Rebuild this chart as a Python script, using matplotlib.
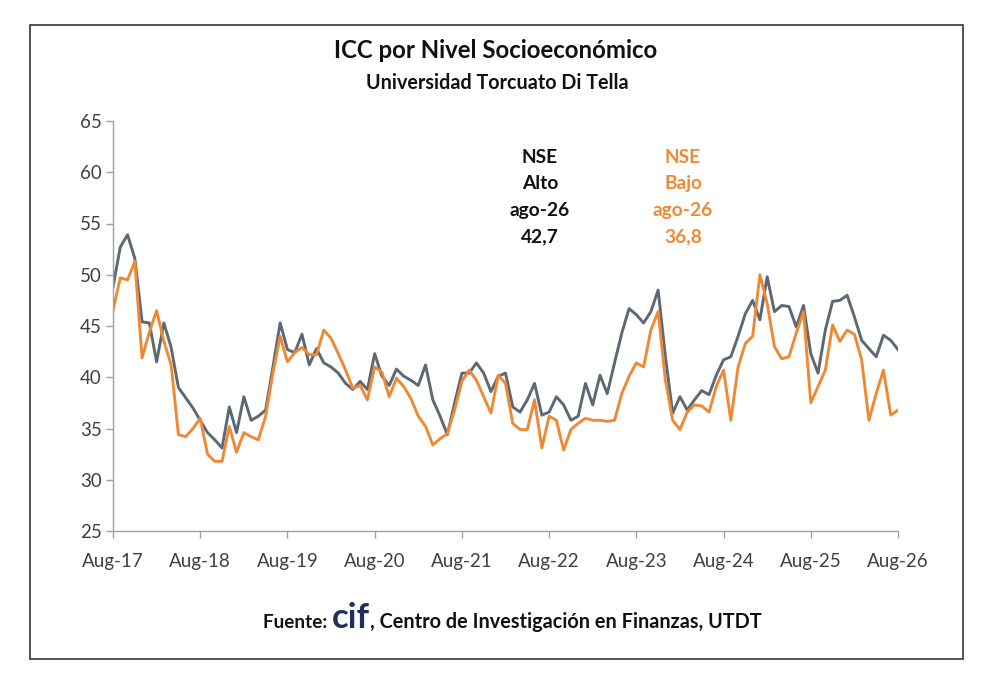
import matplotlib
matplotlib.use("Agg")
import matplotlib.pyplot as plt
from matplotlib.patches import Rectangle

# ---------------- data ----------------
x_labels = ["Aug-17", "Aug-18", "Aug-19", "Aug-20", "Aug-21",
            "Aug-22", "Aug-23", "Aug-24", "Aug-25", "Aug-26"]
y_ticks = [25, 30, 35, 40, 45, 50, 55, 60, 65]

nse_alto = [48.8, 52.7, 53.9, 51.6, 45.4, 45.3, 41.5, 45.3, 42.9, 39.0, 38.0, 37.0, 35.8,
            34.6, 33.9, 33.1, 37.1, 34.6, 38.1, 35.8, 36.2, 36.8, 41.0, 45.3, 42.7, 42.4,
            44.2, 41.2, 42.8, 41.4, 41.0, 40.4, 39.4, 38.8, 39.6, 38.8, 42.3, 40.1, 39.2, 40.8,
            40.1, 39.7, 39.2, 41.2, 37.8, 36.2, 34.4, 37.5, 40.4, 40.4, 41.4, 40.4, 38.6,
            40.1, 40.4, 37.1, 36.6, 37.8, 39.4, 36.3, 36.6, 38.1, 37.3, 35.8, 36.2, 39.4, 37.3, 40.2,
            38.4, 41.4, 44.3, 46.7, 46.1, 45.3, 46.4, 48.5, 42.0, 36.5, 38.1, 36.8, 37.8, 38.7,
            38.3, 40.2, 41.7, 42.0, 44.0, 46.2, 47.5, 45.6, 49.8, 46.4, 47.0, 46.9, 44.9, 47.0,
            42.3, 40.4, 44.6, 47.4, 47.5, 48.0, 45.9, 43.6, 42.8, 42.0, 44.1, 43.6, 42.7]

nse_bajo = [46.5, 49.7, 49.5, 51.3, 41.9, 44.4, 46.5, 43.5, 41.2, 34.4, 34.2, 35.0, 36.0,
            32.5, 31.8, 31.8, 35.2, 32.7, 34.6, 34.2, 33.9, 36.2, 40.4, 44.0, 41.5, 42.4,
            42.9, 42.2, 42.2, 44.6, 43.8, 42.3, 40.7, 38.9, 39.2, 37.8, 41.0, 40.5, 38.1, 39.9,
            39.1, 37.9, 36.2, 35.2, 33.4, 34.0, 34.5, 36.8, 39.6, 40.7, 39.7, 38.1, 36.5,
            40.2, 39.4, 35.5, 34.9, 34.9, 37.8, 33.1, 36.2, 35.8, 32.9, 34.9, 35.5, 36.0, 35.8, 35.8,
            35.7, 35.8, 38.4, 40.1, 41.4, 41.0, 44.6, 46.4, 39.7, 35.8, 34.9, 36.6, 37.3, 37.2,
            36.6, 39.1, 40.7, 35.8, 41.0, 43.3, 44.0, 50.0, 47.2, 43.0, 41.8, 42.0, 44.3, 46.4,
            37.5, 39.1, 40.7, 45.1, 43.5, 44.6, 44.2, 41.7, 35.8, 38.4, 40.7, 36.3, 36.8]

months = list(range(len(nse_alto)))
label_pos = [12 * k for k in range(len(x_labels))]

title = "ICC por Nivel Socioeconómico"
subtitle = "Universidad Torcuato Di Tella"
alto_txt = "NSE\nAlto\nago-26\n42,7"
bajo_txt = "NSE\nBajo\nago-26\n36,8"

# ---------------- style ----------------
plt.rcParams['font.family'] = ['Lato', 'DejaVu Sans']
GRAY = "#5d6875"
ORANGE = "#ee8a35"
NAVY = "#1f2f5c"

W, H = 992, 689
fig = plt.figure(figsize=(W / 100, H / 100), dpi=100)
fig.patch.set_facecolor("white")

# outer frame
fig.add_artist(Rectangle((30 / W, 1 - 659 / H), (963 - 30) / W, (659 - 25) / H,
                         transform=fig.transFigure, fill=False,
                         edgecolor="#444444", linewidth=1.3))

ax = fig.add_axes([113 / W, 1 - 531 / H, (898 - 113) / W, (531 - 121) / H])
ax.plot(months, nse_alto, color=GRAY, lw=2.1, solid_joinstyle="round")
ax.plot(months, nse_bajo, color=ORANGE, lw=2.1, solid_joinstyle="round")

ax.set_xlim(0, len(months) - 1)
ax.set_ylim(25, 65)
ax.set_yticks(y_ticks)
ax.set_yticklabels([str(v) for v in y_ticks])
ax.set_xticks(label_pos)
ax.set_xticklabels(x_labels)
for s in ["top", "right"]:
    ax.spines[s].set_visible(False)
for s in ["left", "bottom"]:
    ax.spines[s].set_color("#a0a0a0")
    ax.spines[s].set_linewidth(1.0)
ax.tick_params(axis="both", colors="#a0a0a0", labelcolor="#404040",
               labelsize=13.5, length=5, width=1.0, direction="out")
ax.tick_params(axis="x", pad=11)
ax.tick_params(axis="y", pad=3)

# titles
fig.text(496 / W, 1 - 51 / H, title, ha="center", va="center",
         fontsize=17.3, fontweight="bold", color="#111111")
fig.text(497 / W, 1 - 83 / H, subtitle, ha="center", va="center",
         fontsize=14.2, fontweight="bold", color="#111111")

# annotations
fig.text(540 / W, 1 - 197 / H, alto_txt, ha="center", va="center",
         fontsize=13.8, fontweight="bold", color="#111111", linespacing=1.68)
fig.text(683 / W, 1 - 197 / H, bajo_txt, ha="center", va="center",
         fontsize=13.8, fontweight="bold", color=ORANGE, linespacing=1.68)

# footer
fig.canvas.draw()
renderer = fig.canvas.get_renderer()
parts = [("Fuente: ", 13.6, "#111111"),
         ("cif", 25, NAVY),
         (", Centro de Investigación en Finanzas, UTDT", 14.3, "#111111")]
x0 = 263
y_base = 1 - 628 / H
xpix = x0
for txt, fs, col in parts:
    t = fig.text(xpix / W, y_base, txt, ha="left", va="baseline",
                 fontsize=fs, fontweight="bold", color=col)
    bb = t.get_window_extent(renderer=renderer)
    xpix = xpix + bb.width

fig.savefig("out.png", dpi=100, facecolor="white")
